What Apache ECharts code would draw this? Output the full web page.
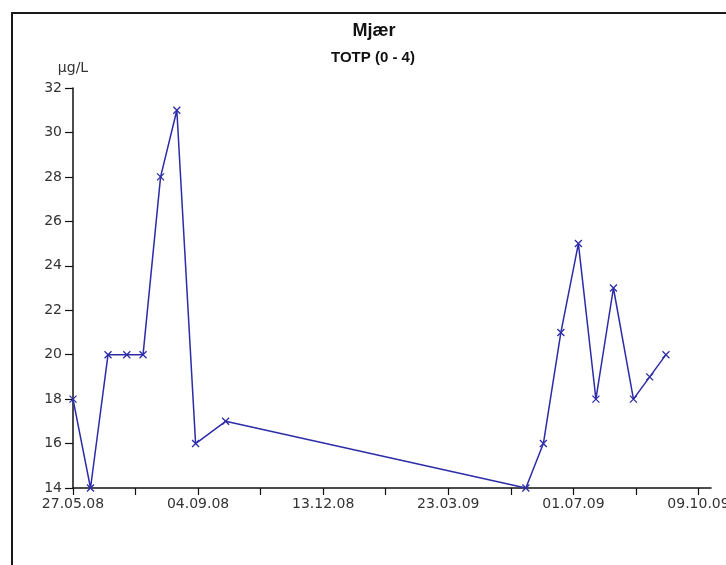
<!DOCTYPE html>
<html>
<head>
<meta charset="utf-8">
<script src="https://cdn.jsdelivr.net/npm/echarts@6/dist/echarts.min.js"></script>
<style>
  html, body { margin: 0; padding: 0; background: #fff; }
  #chart { width: 726px; height: 565px; }
</style>
</head>
<body>
<div id="chart"></div>
<script>
// Sampling dates (ISO) and total phosphorus readings, µg/L
const sampleDates = [
  '2008-05-27', '2008-06-10', '2008-06-24', '2008-07-09', '2008-07-22',
  '2008-08-05', '2008-08-18', '2008-09-02', '2008-09-26',
  '2009-05-24', '2009-06-07', '2009-06-21', '2009-07-05', '2009-07-19',
  '2009-08-02', '2009-08-18', '2009-08-31', '2009-09-13'
];
const totpValues = [18, 14, 20, 20, 20, 28, 31, 16, 17, 14, 16, 21, 25, 18, 23, 18, 19, 20];

// Labelled dates on the time axis (dd.mm.yy), 100 days apart
const xTickLabels = ['27.05.08', '04.09.08', '13.12.08', '23.03.09', '01.07.09', '09.10.09'];
const axisStartDate = '2008-05-27';
const axisEndPadDays = 10;

const yMin = 14, yMax = 32, yStep = 2;

const DAY = 86400000;
const startMs = Date.parse(axisStartDate);
const toDay = iso => Math.round((Date.parse(iso) - startMs) / DAY);
const parseLabel = s => {
  const [d, m, y] = s.split('.');
  return toDay('20' + y + '-' + m + '-' + d);
};

const labelDays = xTickLabels.map(parseLabel);
const tickDays = [];
labelDays.forEach((d, i) => {
  tickDays.push(d);
  if (i < labelDays.length - 1) tickDays.push((d + labelDays[i + 1]) / 2);
});
const labelByDay = {};
labelDays.forEach((d, i) => { labelByDay[d] = xTickLabels[i]; });

const points = sampleDates.map((d, i) => [toDay(d), totpValues[i]]);

const FONT = 'DejaVu Sans';
const LINE = '#2c2ca8';

const chart = echarts.init(document.getElementById('chart'), null, { renderer: 'canvas' });
chart.setOption({
  backgroundColor: '#fff',
  animation: false,
  grid: { left: 73, right: 15, top: 88, bottom: 77, outerBoundsMode: 'none', containLabel: false },
  graphic: [
    {
      type: 'rect',
      shape: { x: 12, y: 13, width: 800, height: 700 },
      style: { fill: 'none', stroke: '#1a1a1a', lineWidth: 2 },
      silent: true
    },
    {
      type: 'text', x: 374, y: 31,
      style: {
        text: 'Mjær', align: 'center', verticalAlign: 'middle',
        font: 'bold 18px "Liberation Sans", Arial, sans-serif', fill: '#111'
      }
    },
    {
      type: 'text', x: 373, y: 58,
      style: {
        text: 'TOTP (0 - 4)', align: 'center', verticalAlign: 'middle',
        font: 'bold 15px "Liberation Sans", Arial, sans-serif', fill: '#111'
      }
    }
  ],
  xAxis: {
    type: 'value',
    min: labelDays[0],
    max: labelDays[labelDays.length - 1] + axisEndPadDays,
    splitLine: { show: false },
    axisLine: { show: true, onZero: false, lineStyle: { color: '#111', width: 1.5 } },
    axisTick: { show: true, length: 7, customValues: tickDays, lineStyle: { color: '#111', width: 1.2 } },
    axisLabel: {
      customValues: labelDays,
      margin: 9,
      hideOverlap: false,
      fontFamily: FONT, fontSize: 14, color: '#333',
      formatter: v => labelByDay[Math.round(v)] || ''
    }
  },
  yAxis: {
    type: 'value',
    min: yMin, max: yMax, interval: yStep,
    name: 'µg/L',
    nameLocation: 'end',
    nameGap: 13,
    nameTextStyle: { fontFamily: FONT, fontSize: 14, color: '#333', align: 'center' },
    splitLine: { show: false },
    axisLine: { show: true, lineStyle: { color: '#111', width: 1.5 } },
    axisTick: { show: true, length: 8, lineStyle: { color: '#111', width: 1.2 } },
    axisLabel: { margin: 11, fontFamily: FONT, fontSize: 14, color: '#333' }
  },
  series: [{
    type: 'line',
    data: points,
    showAllSymbol: true,
    symbol: 'path://M0 0L10 10M10 0L0 10',
    symbolSize: 7,
    lineStyle: { color: LINE, width: 1.5 },
    itemStyle: { color: 'none', borderColor: LINE, borderWidth: 1.3 },
    clip: false
  }]
});
</script>
</body>
</html>
